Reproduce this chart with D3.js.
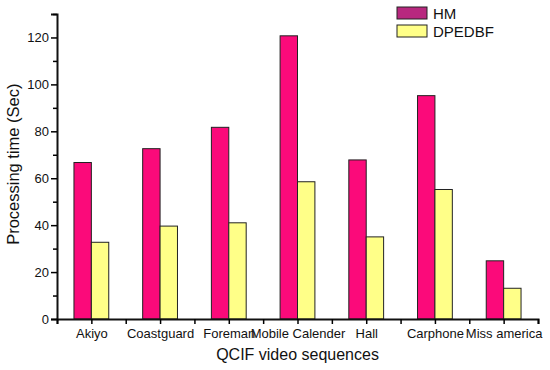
<!DOCTYPE html>
<html><head><meta charset="utf-8">
<script src="https://cdn.jsdelivr.net/npm/d3@7"></script>
<style>body{margin:0;background:#fff}svg{display:block}text{font-family:Arial,"Liberation Sans",sans-serif;fill:#111}</style>
</head><body><svg id="c" width="550" height="370"></svg>
<script>
const categories = ["Akiyo","Coastguard","Foreman","Mobile Calender","Hall","Carphone","Miss america"];
const hmValues = [66.7, 72.6, 81.7, 120.7, 67.8, 95.2, 24.8];
const dpedbfValues = [32.7, 39.6, 41.0, 58.5, 35.0, 55.2, 13.1];
const seriesNames = ["HM","DPEDBF"];
const yTicks = [0,20,40,60,80,100,120];

const svg = d3.select("#c");
const x = d3.scaleLinear().domain([0.5, categories.length + 0.5]).range([57, 538]);
const y = d3.scaleLinear().domain([0, 130]).range([319, 14]);
const colors = {HM:"#fb0a7a", DPEDBF:"#ffff88"};
const legendColors = {HM:"#b8287f", DPEDBF:"#ffff88"};
const barW = 17.4;

const series = [hmValues, dpedbfValues];
series.forEach((vals, si) => {
  svg.append("g").selectAll("rect").data(vals).enter().append("rect")
    .attr("x", (d,i) => x(i+1) + (si === 0 ? -barW : 0))
    .attr("y", d => y(d))
    .attr("width", barW)
    .attr("height", d => y(0) - y(d))
    .attr("fill", colors[seriesNames[si]])
    .attr("stroke", "#222").attr("stroke-width", 1);
});

// Y axis
const yAxis = d3.axisLeft(y).tickValues(yTicks).tickSize(6).tickPadding(2).tickFormat(d3.format("d"));
const yg = svg.append("g").attr("transform", `translate(${x(0.5)},0)`).call(yAxis);
yg.select(".domain").attr("stroke-width", 2).attr("stroke", "#111");
yg.selectAll(".tick line").attr("stroke-width", 1.5);
yg.selectAll("text").style("font-size", "13px");
const yMinor = d3.axisLeft(y).tickValues(d3.range(10, 131, 20)).tickSize(4).tickFormat("");
const ym = svg.append("g").attr("transform", `translate(${x(0.5)},0)`).call(yMinor);
ym.select(".domain").remove();
ym.selectAll(".tick line").attr("stroke-width", 1.5);

// X axis
const xTickVals = d3.range(0.5, categories.length + 0.51, 0.5);
const xAxis = d3.axisBottom(x).tickValues(xTickVals).tickSize(5).tickPadding(5)
  .tickFormat(d => Number.isInteger(d) ? categories[d-1] : "");
const xg = svg.append("g").attr("transform", `translate(0,${y(0)})`).call(xAxis);
xg.select(".domain").attr("stroke-width", 2).attr("stroke", "#111");
xg.selectAll(".tick line").attr("stroke-width", 1.5);
xg.selectAll("text").style("font-size", "13px");

// Titles
svg.append("text").attr("x", x(4)).attr("y", 360).attr("text-anchor", "middle")
  .style("font-size", "16px").text("QCIF video sequences");
svg.append("text").attr("transform", `translate(19,${y(66)}) rotate(-90)`).attr("text-anchor", "middle")
  .style("font-size", "16.5px").text("Processing time (Sec)");

// Legend
const lg = svg.append("g");
seriesNames.forEach((s, i) => {
  lg.append("rect").attr("x", 397).attr("y", 7 + i*18).attr("width", 30).attr("height", 12)
    .attr("fill", legendColors[s]).attr("stroke", "#222").attr("stroke-width", 1);
  lg.append("text").attr("x", 433).attr("y", 19 + i*18).style("font-size", "15px").text(s);
});
</script></body></html>
